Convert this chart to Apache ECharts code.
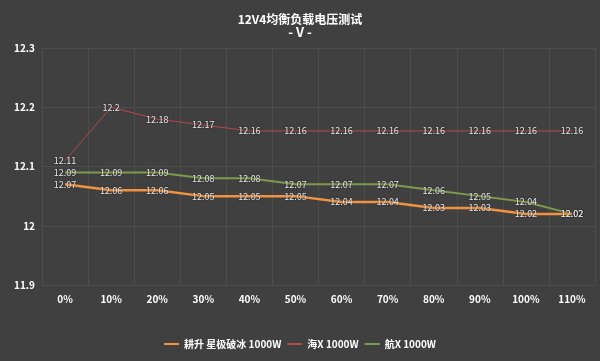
<!DOCTYPE html>
<html><head><meta charset="utf-8">
<script src="https://cdn.jsdelivr.net/npm/echarts@6/dist/echarts.min.js"></script>
<style>html,body{margin:0;padding:0;background:#404040;}#c{width:600px;height:361px;}</style>
</head><body><div id="c"></div>
<script>
const categories = ['0%','10%','20%','30%','40%','50%','60%','70%','80%','90%','100%','110%'];
const seriesNames = ['耕升 星极破冰 1000W','海X 1000W','航X 1000W'];
const gainward = [12.07,12.06,12.06,12.05,12.05,12.05,12.04,12.04,12.03,12.03,12.02,12.02];
const haiX = [12.11,12.2,12.18,12.17,12.16,12.16,12.16,12.16,12.16,12.16,12.16,12.16];
const hangX = [12.09,12.09,12.09,12.08,12.08,12.07,12.07,12.07,12.06,12.05,12.04,12.02];
const yTicks = {min:11.9, max:12.3, interval:0.1};

const font = '"Noto Sans CJK SC","Noto Sans",sans-serif';
const colors = ['#f0923f','#b24a48','#7d9a4e'];
const widths = [2.5,1,2];
const data = [gainward, haiX, hangX];

const chart = echarts.init(document.getElementById('c'));
chart.setOption({
  backgroundColor:'#404040',
  animation:false,
  title:{
    text:'12V4均衡负载电压测试',
    subtext:'- V -',
    left:'center', top:8, itemGap:1,
    textStyle:{color:'#ffffff',fontSize:12,fontWeight:'bold',fontFamily:font},
    subtextStyle:{color:'#ffffff',fontSize:13,fontWeight:'bold',fontFamily:font}
  },
  legend:{
    bottom:7, left:'center',
    data:seriesNames,
    icon:'rect', itemWidth:15, itemHeight:2, itemGap:6,
    textStyle:{color:'#ffffff',fontSize:10,fontWeight:'bold',fontFamily:font}
  },
  grid:{left:42,right:5,top:48,bottom:76},
  xAxis:{
    type:'category', data:categories, boundaryGap:true,
    axisLine:{show:false}, axisTick:{show:false},
    axisLabel:{color:'#ffffff',fontSize:10,fontWeight:'bold',margin:9,fontFamily:font},
    splitLine:{show:true,lineStyle:{color:'#4d4d4d',width:1}}
  },
  yAxis:{
    type:'value', min:yTicks.min, max:yTicks.max, interval:yTicks.interval,
    axisLine:{show:false}, axisTick:{show:false},
    axisLabel:{color:'#ffffff',fontSize:10,fontWeight:'bold',margin:7,fontFamily:font,
      formatter:v=>String(Math.round(v*10)/10)},
    splitLine:{lineStyle:{color:'#4d4d4d',width:1}}
  },
  series:seriesNames.map((n,i)=>({
    name:n, type:'line', data:data[i],
    symbol:'circle', symbolSize:0.1, showSymbol:true,
    itemStyle:{color:colors[i]},
    lineStyle:{color:colors[i],width:widths[i]},
    label:{show:true,position:'inside',color:'#e6e6e6',fontSize:9,fontFamily:font,
      textShadowColor:'rgba(0,0,0,0.6)',textShadowBlur:2,
      formatter:p=>String(p.value)},
    z:3-i
  }))
});
</script></body></html>
